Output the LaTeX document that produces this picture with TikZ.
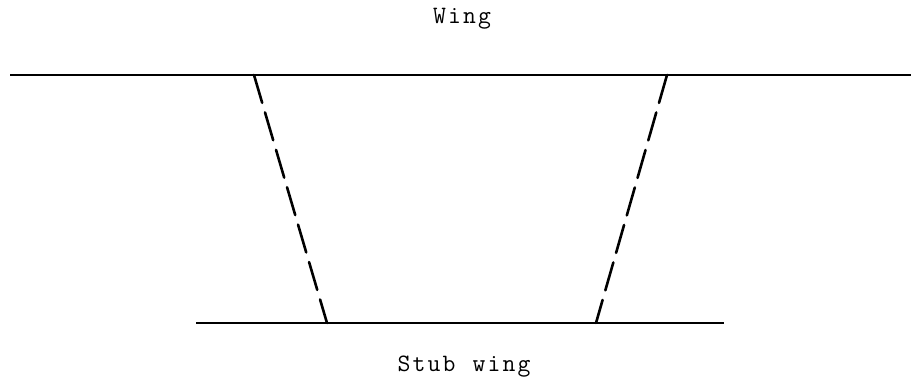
\documentclass[tikz,border=0pt]{standalone}
\usepackage{fontspec}
\newcommand\tch[1]{\makebox[15pt]{#1}}
\begin{document}
\begin{tikzpicture}[x=1pt,y=1pt,
  solidline/.style={line width=2.4pt},
  dashline/.style={line width=2.6pt,line cap=round,dash pattern=on 29pt off 10pt},
  lbl/.style={font=\ttfamily\fontsize{25}{25}\selectfont,inner sep=0pt}]
\useasboundingbox (0,0) rectangle (911,385);
\coordinate (tl) at (10,310);
\coordinate (tr) at (911,310);
\coordinate (bl) at (196,62);
\coordinate (br) at (724,62);
\coordinate (lt) at (254,310);
\coordinate (lb) at (327,62);
\coordinate (rt) at (667,310);
\coordinate (rb) at (596,62);
\draw[solidline] (tl) -- (tr);
\draw[solidline] (bl) -- (br);
\draw[dashline] (lt) -- (lb);
\draw[dashline] (rt) -- (rb);
\node[lbl] (wing) at (462,366) {\tch{W}\tch{i}\tch{n}\tch{g}};
\node[lbl] (stub) at (464,18) {\tch{S}\tch{t}\tch{u}\tch{b}\tch{ }\tch{w}\tch{i}\tch{n}\tch{g}};
\end{tikzpicture}
\end{document}
